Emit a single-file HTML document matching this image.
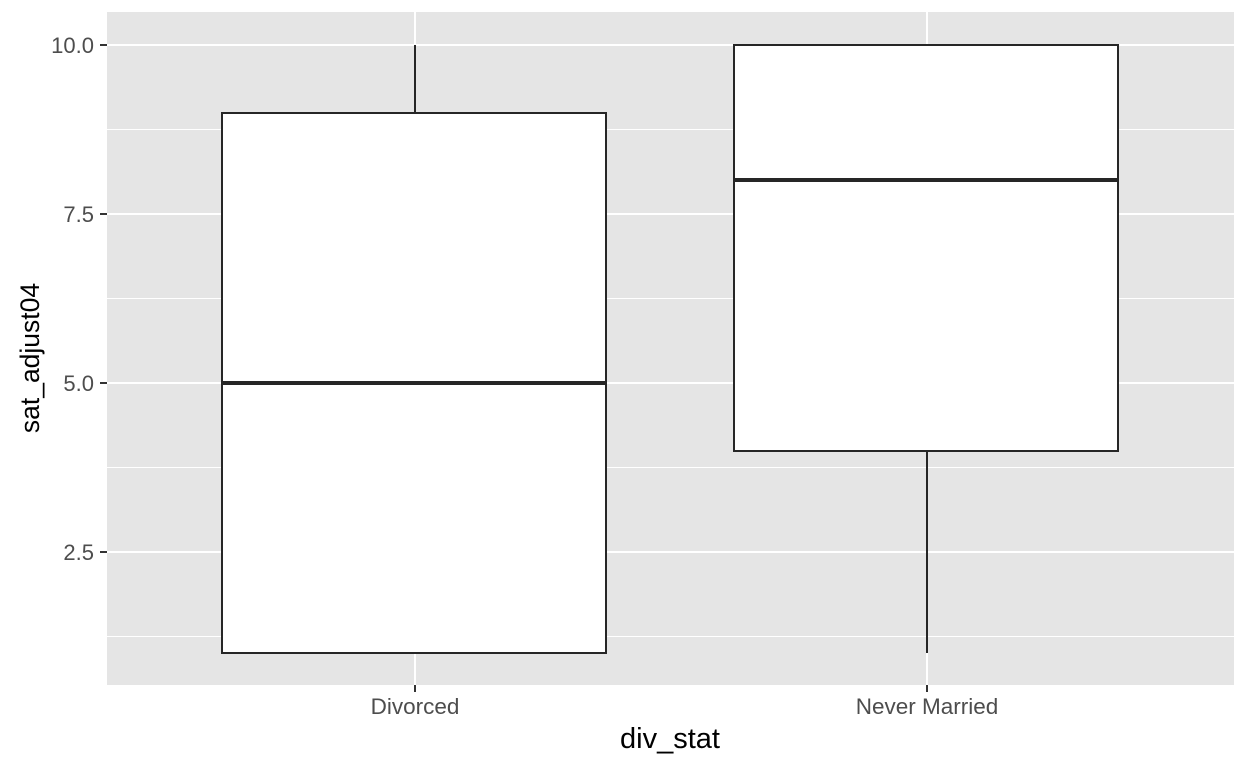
<!DOCTYPE html>
<html><head><style>html,body{margin:0;padding:0;background:#fff;}</style></head>
<body>
<svg width="1248" height="768" xmlns="http://www.w3.org/2000/svg" font-family="Liberation Sans, sans-serif">
<rect x="0" y="0" width="1248" height="768" fill="#fff"/>
<rect x="107" y="12" width="1127" height="673" fill="#e5e5e5"/>
<g stroke="#fff" stroke-width="1">
<line x1="107" x2="1234" y1="129.5" y2="129.5"/>
<line x1="107" x2="1234" y1="298.5" y2="298.5"/>
<line x1="107" x2="1234" y1="467.5" y2="467.5"/>
<line x1="107" x2="1234" y1="636.5" y2="636.5"/>
</g>
<g stroke="#fff" stroke-width="2">
<line x1="107" x2="1234" y1="45" y2="45"/>
<line x1="107" x2="1234" y1="214" y2="214"/>
<line x1="107" x2="1234" y1="383" y2="383"/>
<line x1="107" x2="1234" y1="552" y2="552"/>
<line x1="415" x2="415" y1="12" y2="685"/>
<line x1="927" x2="927" y1="12" y2="685"/>
</g>
<g stroke="#262626" stroke-width="2" fill="#fff">
<line x1="415" x2="415" y1="45" y2="113"/>
<rect x="222" y="113" width="384" height="540"/>
<line x1="927" x2="927" y1="451" y2="653"/>
<rect x="734" y="45" width="384" height="406"/>
</g>
<g stroke="#262626" stroke-width="4">
<line x1="222" x2="606" y1="383" y2="383"/>
<line x1="734" x2="1118" y1="180" y2="180"/>
</g>
<g stroke="#333" stroke-width="2">
<line x1="100" x2="107" y1="45" y2="45"/>
<line x1="100" x2="107" y1="214" y2="214"/>
<line x1="100" x2="107" y1="383" y2="383"/>
<line x1="100" x2="107" y1="552" y2="552"/>
<line x1="415" x2="415" y1="685" y2="692"/>
<line x1="927" x2="927" y1="685" y2="692"/>
</g>
<g fill="#4d4d4d" font-size="22" text-anchor="end">
<text x="94" y="53">10.0</text>
<text x="94" y="222">7.5</text>
<text x="94" y="391">5.0</text>
<text x="94" y="560">2.5</text>
</g>
<g fill="#4d4d4d" font-size="22.5" text-anchor="middle">
<text x="415" y="714">Divorced</text>
<text x="927" y="714">Never Married</text>
</g>
<text x="670" y="748" font-size="29" text-anchor="middle" fill="#000">div_stat</text>
<text transform="translate(39,358) rotate(-90)" font-size="26.5" text-anchor="middle" fill="#000">sat_adjust04</text>
</svg>
</body></html>
